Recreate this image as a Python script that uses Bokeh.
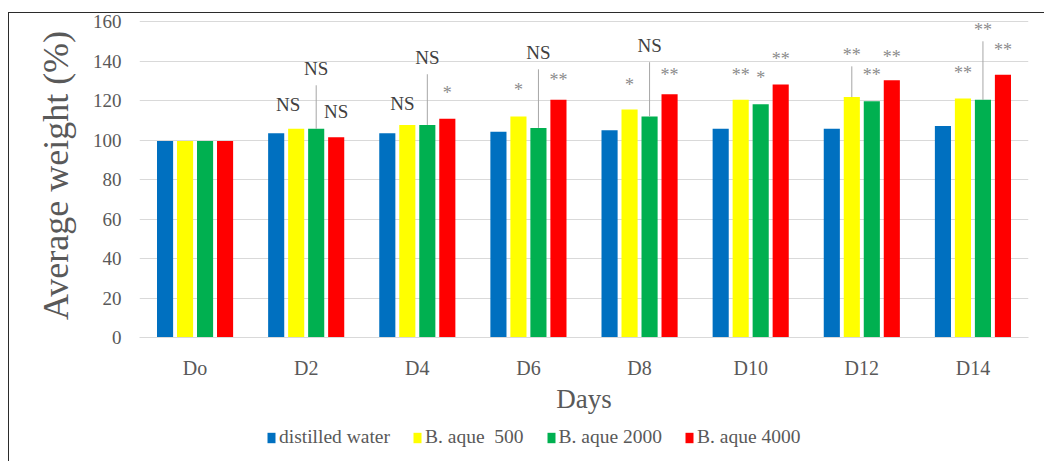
from bokeh.plotting import figure
from bokeh.layouts import column
from bokeh.models import ColumnDataSource, Legend, LegendItem, Range1d
from bokeh.transform import dodge
from bokeh.core.properties import value
from bokeh.embed import file_html
from bokeh.resources import INLINE

# ---------------- data ----------------
days = ["Do", "D2", "D4", "D6", "D8", "D10", "D12", "D14"]
series_names = ["distilled water", "B. aque  500", "B. aque 2000", "B. aque 4000"]

distilled_water = [99.6, 103.6, 103.6, 104.3, 105.1, 105.8, 105.8, 107.2]
aque_500 = [99.6, 105.8, 107.8, 112.1, 115.6, 120.5, 121.9, 121.2]
aque_2000 = [99.6, 105.8, 107.8, 106.3, 112.1, 118.3, 119.8, 120.5]
aque_4000 = [99.6, 101.6, 110.9, 120.5, 123.4, 128.3, 130.5, 133.2]

sig_500 = ["", "NS", "NS", "*", "*", "**", "**", "**"]
sig_2000 = ["", "NS", "NS", "NS", "NS", "*", "**", "**"]
sig_4000 = ["", "NS", "*", "**", "**", "**", "**", "**"]

y_ticks = [0, 20, 40, 60, 80, 100, 120, 140, 160]

# ---------------- label layout (heights of the significance marks) ----------------
label_y_500 = [0, 118.2, 118.7, 127.8, 130.8, 135.9, 146.0, 136.9]
label_y_2000 = [0, 136.4, 142.0, 144.5, 148.1, 133.9, 135.4, 158.7]
label_y_4000 = [0, 114.6, 126.3, 132.9, 135.9, 144.0, 145.0, 148.1]
leader_500 = [False, False, False, False, False, False, True, False]
leader_2000 = [False, True, True, True, True, False, False, True]
leader_4000 = [False] * 8
label_dx_500 = [0, -8, -5, 0, 0, 0, 0, 0]

# ---------------- styling ----------------
colors = ["#0070C0", "#FFFF00", "#00B050", "#FF0000"]
offsets = [-0.27, -0.09, 0.09, 0.27]
bar_width = 0.145
FONT = "Liberation Serif"
GRAY_TXT = "#595959"

p = figure(x_range=days, y_range=(0, 164.3), width=1036, height=407,
           output_backend="svg", toolbar_location=None,
           min_border_left=130, min_border_right=17,
           min_border_top=0, min_border_bottom=83)

p.outline_line_color = None
p.background_fill_color = "white"
p.border_fill_color = "white"
p.xgrid.grid_line_color = None
p.ygrid.grid_line_color = "#d9d9d9"
p.ygrid.grid_line_width = 1

p.yaxis.ticker = y_ticks
p.yaxis.axis_line_color = None
p.yaxis.major_tick_line_color = None
p.yaxis.minor_tick_line_color = None
p.yaxis.major_label_text_font = FONT
p.yaxis.major_label_text_font_size = "19px"
p.yaxis.major_label_text_color = GRAY_TXT
p.yaxis.major_label_standoff = 12
p.yaxis.axis_label = "Average weight (%)"
p.yaxis.axis_label_text_font = FONT
p.yaxis.axis_label_text_font_size = "36px"
p.yaxis.axis_label_text_font_style = "normal"
p.yaxis.axis_label_text_color = GRAY_TXT
p.yaxis.axis_label_standoff = 14

p.xaxis.axis_line_color = "#d9d9d9"
p.xaxis.major_tick_line_color = None
p.xaxis.minor_tick_line_color = None
p.xaxis.major_label_text_font = FONT
p.xaxis.major_label_text_font_size = "20px"
p.xaxis.major_label_text_color = GRAY_TXT
p.xaxis.major_label_standoff = 13
p.xaxis.axis_label = "Days"
p.xaxis.axis_label_text_font = FONT
p.xaxis.axis_label_text_font_size = "27px"
p.xaxis.axis_label_text_font_style = "normal"
p.xaxis.axis_label_text_color = GRAY_TXT
p.xaxis.axis_label_standoff = 2

values = [distilled_water, aque_500, aque_2000, aque_4000]
sources = []
for vals, col, off in zip(values, colors, offsets):
    src = ColumnDataSource(dict(day=days, v=vals))
    sources.append(src)
    p.vbar(x=dodge("day", off, range=p.x_range), top="v", width=bar_width,
           source=src, fill_color=col, line_color=None)

# significance marks
sig_sets = [(sig_500, label_y_500, leader_500, label_dx_500, aque_500, offsets[1]),
            (sig_2000, label_y_2000, leader_2000, [0] * 8, aque_2000, offsets[2]),
            (sig_4000, label_y_4000, leader_4000, [0] * 8, aque_4000, offsets[3])]
for sigs, ly, lead, dx, vals, off in sig_sets:
    idx = [i for i, s in enumerate(sigs) if s]
    src = ColumnDataSource(dict(
        day=[days[i] for i in idx],
        sig=[sigs[i] for i in idx],
        ly=[ly[i] for i in idx],
        dx=[dx[i] for i in idx],
        dy=[5 if sigs[i].startswith("*") else 0 for i in idx],
        col=["#8c8c8c" if sigs[i].startswith("*") else "#404040" for i in idx],
        size=["18px" if sigs[i].startswith("*") else "19px" for i in idx],
    ))
    p.text(x=dodge("day", off, range=p.x_range), y="ly", text="sig", source=src,
           text_align="center", text_baseline="middle", text_font=value(FONT),
           text_font_size="size", text_color="col", x_offset="dx", y_offset="dy")
    lidx = [i for i in idx if lead[i]]
    if lidx:
        lsrc = ColumnDataSource(dict(
            day=[days[i] for i in lidx],
            top=[ly[i] - 8.5 for i in lidx],
            bar=[vals[i] for i in lidx],
        ))
        p.segment(x0=dodge("day", off, range=p.x_range), y0="top",
                  x1=dodge("day", off, range=p.x_range), y1="bar",
                  source=lsrc, line_color="#a6a6a6", line_width=1)

# ---------------- legend strip (same series, drawn far outside its visible y-range) ----------------
q = figure(width=1036, height=41, output_backend="svg", toolbar_location=None,
           x_range=p.x_range, y_range=Range1d(1000, 1001),
           min_border_left=0, min_border_right=0, min_border_top=0, min_border_bottom=0)
q.axis.visible = False
q.grid.visible = False
q.outline_line_color = None
q.border_fill_color = "white"
q.background_fill_color = "white"
leg_renderers = [q.vbar(x=dodge("day", off, range=q.x_range), top="v", width=bar_width,
                        source=src, fill_color=c, line_color=None)
                 for src, c, off in zip(sources, colors, offsets)]
legend = Legend(items=[LegendItem(label=n, renderers=[r]) for n, r in zip(series_names, leg_renderers)],
                location=(127, 13), orientation="horizontal")
legend.label_text_font = FONT
legend.label_text_font_size = "19.5px"
legend.label_text_color = GRAY_TXT
legend.glyph_width = 10
legend.glyph_height = 13
legend.label_standoff = 3
legend.spacing = 22
legend.padding = 0
legend.margin = 0
legend.border_line_color = None
legend.background_fill_alpha = 0
q.add_layout(legend)

page = column(p, q, spacing=0)
page.styles = {"margin-left": "8px", "margin-top": "12px",
               "border-left": "1.5px solid #2b2b2b", "border-top": "1.5px solid #2b2b2b"}

open("out.html", "w").write(file_html(page, INLINE))
